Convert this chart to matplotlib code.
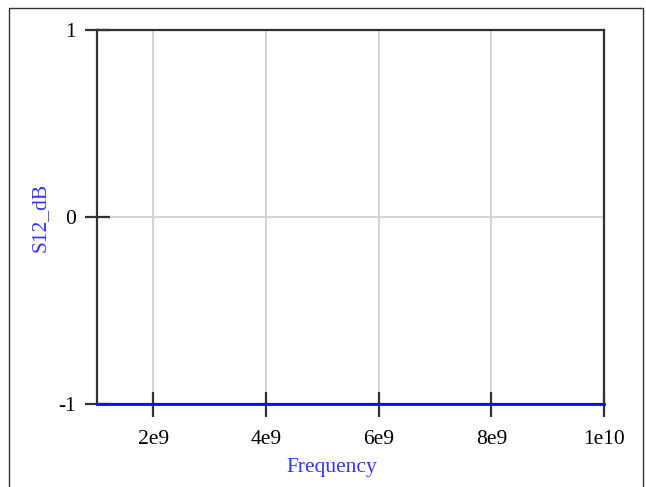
import matplotlib
matplotlib.use("Agg")
import matplotlib.pyplot as plt
from matplotlib.patches import Rectangle

# Sweep data
frequency = [1e9, 2e9, 3e9, 4e9, 5e9, 6e9, 7e9, 8e9, 9e9, 1e10]
s12_db = [-1, -1, -1, -1, -1, -1, -1, -1, -1, -1]

x_ticks = [2e9, 4e9, 6e9, 8e9, 1e10]
x_tick_labels = ["2e9", "4e9", "6e9", "8e9", "1e10"]
y_ticks = [-1, 0, 1]
y_tick_labels = ["-1", "0", "1"]

plt.rcParams["font.family"] = ["Liberation Serif", "DejaVu Serif"]

W, H = 646, 487
fig = plt.figure(figsize=(W / 100, H / 100), dpi=100)
fig.patch.set_facecolor("white")

# outer frame (open at the bottom)
fig.patches.append(Rectangle((9 / W, -0.05), (643 - 9) / W, 1.05 - 8 / H,
                             transform=fig.transFigure, fill=False,
                             edgecolor="#333333", linewidth=1.0))

ax = fig.add_axes([97 / W, 1 - 404 / H, (604 - 97) / W, (404 - 30) / H])

ax.plot(frequency, s12_db, color="#0a0aff", linewidth=2.0, zorder=5,
        clip_on=False)

ax.set_xlim(1e9, 1e10)
ax.set_ylim(-1, 1)
ax.set_xticks(x_ticks)
ax.set_xticklabels(x_tick_labels)
ax.set_yticks(y_ticks)
ax.set_yticklabels(y_tick_labels)

ax.grid(True, color="#d0d0d0", linewidth=1.3)
ax.set_axisbelow(True)

for side in ["left", "right", "top", "bottom"]:
    ax.spines[side].set_color("#333333")
    ax.spines[side].set_linewidth(1.6)

ax.tick_params(axis="both", direction="inout", length=18, width=1.6,
               color="#333333", labelsize=15.5, labelcolor="black")
ax.tick_params(axis="x", pad=10)
ax.tick_params(axis="y", pad=6)

ax.set_xlabel("Frequency", color="#3333ff", fontsize=15.5)
ax.xaxis.set_label_coords(0.4635, -0.145)
ax.set_ylabel("S12_dB", color="#3333ff", fontsize=15.5, labelpad=6)

fig.savefig("out.png", dpi=100)
